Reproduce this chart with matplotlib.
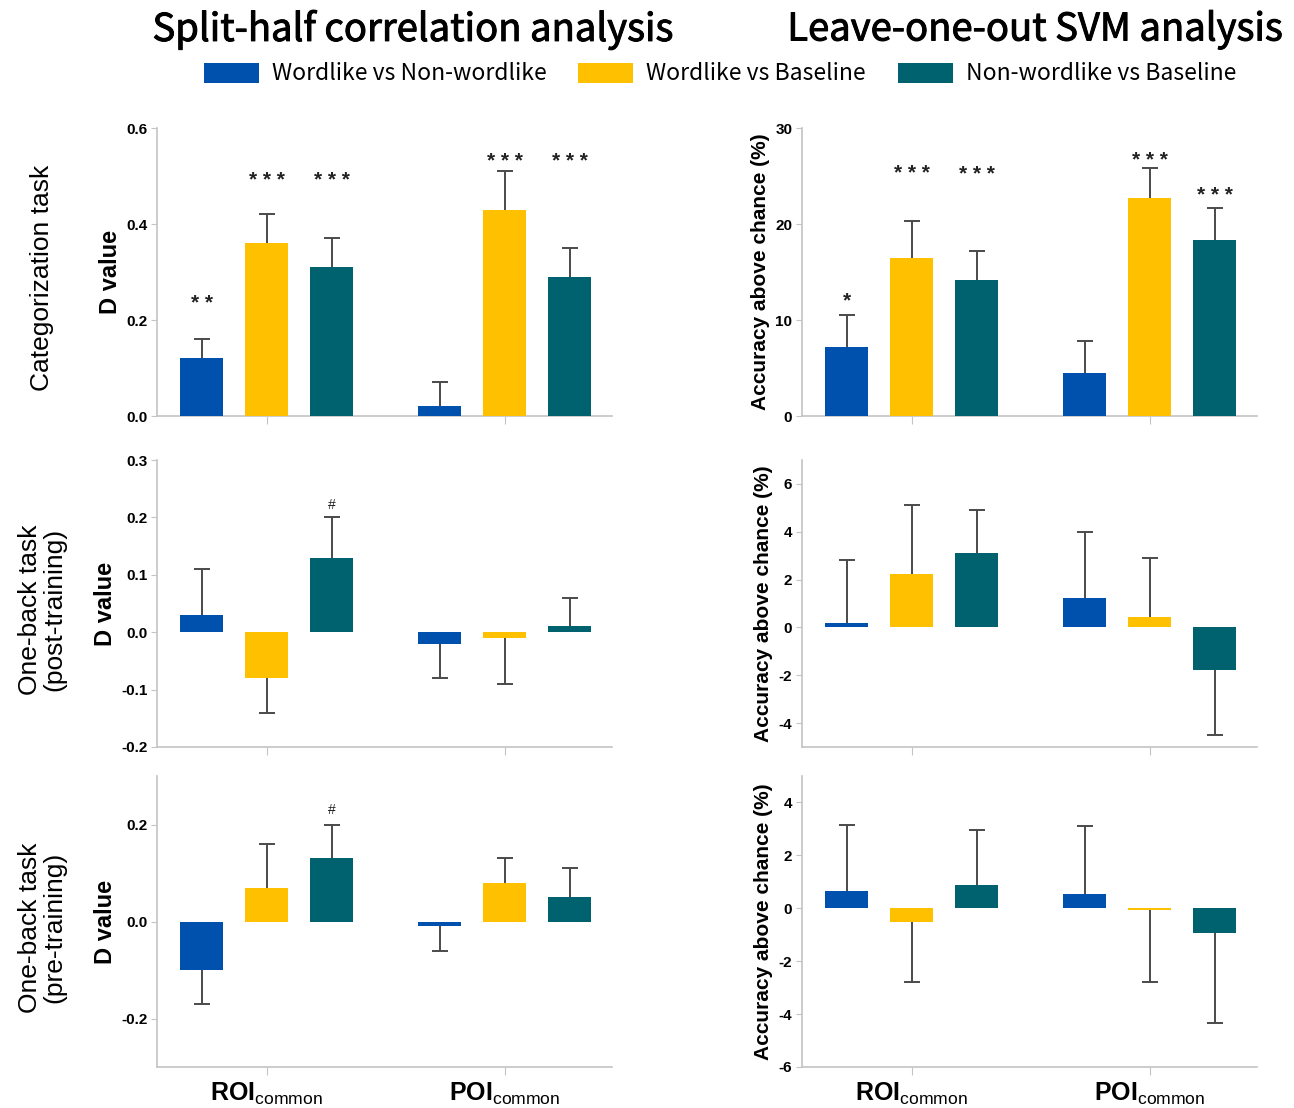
import matplotlib
matplotlib.use("Agg")
import matplotlib.pyplot as plt
import matplotlib.patheffects as pe
from matplotlib.patches import Patch
import numpy as np

plt.rcParams['mathtext.fontset'] = 'custom'
plt.rcParams['mathtext.rm'] = 'Liberation Sans'
plt.rcParams['mathtext.bf'] = 'Liberation Sans:bold'
plt.rcParams['font.family'] = ['Liberation Sans', 'DejaVu Sans']

# ---------------- data ----------------
categories = ["ROI", "POI"]
series = ["Wordlike vs Non-wordlike", "Wordlike vs Baseline", "Non-wordlike vs Baseline"]
colors = ["#0050AE", "#FFC000", "#00626F"]

# values[series][category]
cat_split_vals = [[0.12, 0.02], [0.36, 0.43], [0.31, 0.29]]
cat_split_err = [[0.04, 0.05], [0.06, 0.08], [0.06, 0.06]]
cat_svm_vals = [[7.2, 4.5], [16.5, 22.7], [14.2, 18.3]]
cat_svm_err = [[3.3, 3.3], [3.8, 3.1], [3.0, 3.4]]

post_split_vals = [[0.03, -0.02], [-0.08, -0.01], [0.13, 0.01]]
post_split_err = [[0.08, 0.06], [0.06, 0.08], [0.07, 0.05]]
post_svm_vals = [[0.2, 1.25], [2.25, 0.45], [3.1, -1.8]]
post_svm_err = [[2.6, 2.75], [2.85, 2.45], [1.8, 2.7]]

pre_split_vals = [[-0.10, -0.01], [0.07, 0.08], [0.13, 0.05]]
pre_split_err = [[0.07, 0.05], [0.09, 0.05], [0.07, 0.06]]
pre_svm_vals = [[0.65, 0.55], [-0.5, -0.05], [0.88, -0.95]]
pre_svm_err = [[2.5, 2.55], [2.3, 2.75], [2.07, 3.4]]

# significance marks: (series, category, label, y)
cat_split_sig = [(0, 0, "**", 0.235), (1, 0, "***", 0.49), (2, 0, "***", 0.49),
                 (1, 1, "***", 0.53), (2, 1, "***", 0.53)]
cat_svm_sig = [(0, 0, "*", 12.0), (1, 0, "***", 25.3), (2, 0, "***", 25.2),
               (1, 1, "***", 26.6), (2, 1, "***", 23.0)]
post_split_sig = [(2, 0, "#", 0.222)]
post_svm_sig = []
pre_split_sig = [(2, 0, "#", 0.229)]
pre_svm_sig = []

split_ylims = [(0, 0.6), (-0.2, 0.3), (-0.3, 0.3)]
split_ticks = [[0.0, 0.2, 0.4, 0.6], [-0.2, -0.1, 0.0, 0.1, 0.2, 0.3], [-0.2, 0.0, 0.2]]
svm_ylims = [(0, 30), (-5, 7), (-6, 5)]
svm_ticks = [[0, 10, 20, 30], [-4, -2, 0, 2, 4, 6], [-6, -4, -2, 0, 2, 4]]

row_labels = ["Categorization task", "One-back task\n(post-training)", "One-back task\n(pre-training)"]
titles = ["Split-half correlation analysis", "Leave-one-out SVM analysis"]

# ---------------- layout ----------------
W, H = 1294, 1108
fig = plt.figure(figsize=(W / 100, H / 100), dpi=100)

row_px = [(128, 416), (460, 747), (776, 1067)]
col_px = [(157, 612), (802, 1257)]

offsets = [-0.273, 0.0, 0.273]
bar_w = 0.181
spine_col = "#c4c4c4"
err_col = "#4a4a4a"


def draw(ax, vals, errs, sig, ylim, ticks, fmt, xlabels):
    x = np.arange(len(categories))
    for s in range(3):
        v = np.array(vals[s])
        e = np.array(errs[s])
        tip = v + np.where(v < 0, -e, e)
        ax.vlines(x + offsets[s], v, tip, color=err_col, lw=1.4, zorder=2)
        ax.plot(x + offsets[s], tip, ls='none', marker='_', ms=11, mew=1.4,
                color=err_col, zorder=2)
        ax.bar(x + offsets[s], v, bar_w, color=colors[s], zorder=3)
    for s, c, lab, yv in sig:
        if lab == "#":
            ax.text(c + offsets[s], yv, lab, ha='center', va='center', fontsize=10,
                    color='#222222')
        else:
            ax.text(c + offsets[s], yv, " ".join(lab), ha='center', va='center',
                    fontsize=15, fontweight='bold', color='#222222')
    ax.set_xlim(-0.46, 1.45)
    ax.set_ylim(*ylim)
    for sp in ['top', 'right']:
        ax.spines[sp].set_visible(False)
    for sp in ['left', 'bottom']:
        ax.spines[sp].set_color(spine_col)
        ax.spines[sp].set_linewidth(1.2)
    ax.set_yticks(ticks)
    ax.set_yticklabels([fmt(t) for t in ticks], fontsize=11, fontweight='bold')
    ax.set_xticks(x)
    if xlabels:
        ax.set_xticklabels([r'$\mathbf{%s}_{\mathregular{common}}$' % c for c in categories],
                           fontsize=18)
    else:
        ax.set_xticklabels([])
    ax.tick_params(axis='y', length=4, color=spine_col, pad=3)
    ax.tick_params(axis='x', length=6, color=spine_col, pad=4)


split_data = [(cat_split_vals, cat_split_err, cat_split_sig),
              (post_split_vals, post_split_err, post_split_sig),
              (pre_split_vals, pre_split_err, pre_split_sig)]
svm_data = [(cat_svm_vals, cat_svm_err, cat_svm_sig),
            (post_svm_vals, post_svm_err, post_svm_sig),
            (pre_svm_vals, pre_svm_err, pre_svm_sig)]

for r in range(3):
    y0, y1 = row_px[r]
    for c in range(2):
        x0, x1 = col_px[c]
        ax = fig.add_axes([x0 / W, 1 - y1 / H, (x1 - x0) / W, (y1 - y0) / H])
        if c == 0:
            vals, errs, sig = split_data[r]
            draw(ax, vals, errs, sig, split_ylims[r], split_ticks[r],
                 lambda t: f"{t:.1f}", r == 2)
            ax.set_ylabel("D value", fontsize=17, fontweight='bold', labelpad=3)
        else:
            vals, errs, sig = svm_data[r]
            draw(ax, vals, errs, sig, svm_ylims[r], svm_ticks[r],
                 lambda t: f"{t:d}", r == 2)
            ax.set_ylabel("Accuracy above chance (%)", fontsize=15, fontweight='bold',
                          labelpad=4)
    fig.text(42 / W, 1 - ((y0 + y1) / 2 + 6) / H, row_labels[r], rotation=90,
             ha='center', va='center', fontsize=19, linespacing=1.05)

# titles
stroke = [pe.withStroke(linewidth=0.7, foreground='black')]
fig.text(413 / W, 1 - 30 / H, titles[0], ha='center', va='center', fontsize=27.5,
         fontweight='medium', family=['Noto Sans CJK SC', 'DejaVu Sans'],
         path_effects=stroke)
fig.text(1035 / W, 1 - 30 / H, titles[1], ha='center', va='center', fontsize=27.5,
         fontweight='medium', family=['Noto Sans CJK SC', 'DejaVu Sans'],
         path_effects=stroke)

handles = [Patch(facecolor=colors[i], label=series[i]) for i in range(3)]
fig.legend(handles=handles, loc='center', bbox_to_anchor=(720 / W, 1 - 74 / H), ncol=3,
           frameon=False, handlelength=2.4, handleheight=0.95, handletextpad=0.56,
           columnspacing=1.4,
           prop={'family': ['Noto Sans CJK SC', 'DejaVu Sans'], 'size': 16.5})

fig.savefig("out.png", dpi=100)
